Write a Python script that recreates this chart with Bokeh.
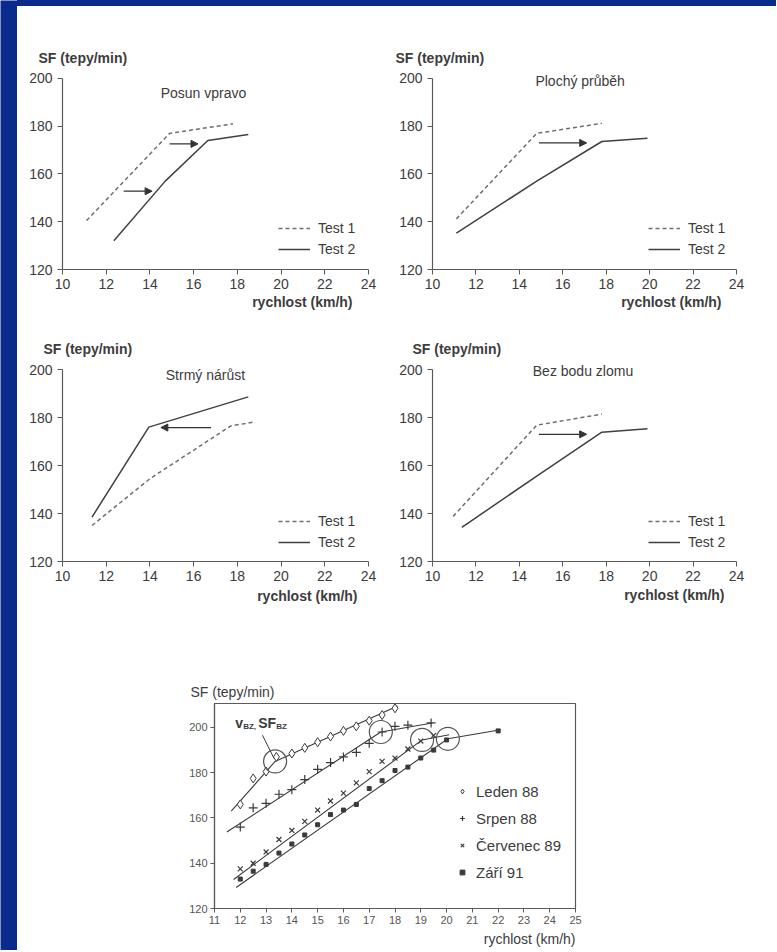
from bokeh.plotting import figure
from bokeh.models import Range1d, Label, Arrow, NormalHead, Legend, LegendItem, FixedTicker, Spacer, Title, Div
from bokeh.layouts import row, column
from bokeh.embed import file_html
from bokeh.resources import INLINE

# ---------------- data ----------------
x_ticks_small = [10, 12, 14, 16, 18, 20, 22, 24]
y_ticks_small = [120, 140, 160, 180, 200]

# Chart 1: Posun vpravo
c1_t1_x = [11.1, 14.9, 17.8]
c1_t1_y = [140.5, 177.0, 181.0]
c1_t2_x = [12.35, 14.7, 16.65, 18.5]
c1_t2_y = [132.0, 157.0, 174.0, 176.5]
c1_arrows = [(12.8, 152.8, 14.1, 152.8), (14.9, 172.6, 16.2, 172.6)]

# Chart 2: Plochý průběh
c2_t1_x = [11.1, 14.8, 17.8]
c2_t1_y = [141.2, 177.0, 181.2]
c2_t2_x = [11.1, 14.8, 17.8, 19.9]
c2_t2_y = [135.2, 157.0, 173.6, 175.0]
c2_arrows = [(14.9, 173.0, 17.1, 173.0)]

# Chart 3: Strmý nárůst
c3_t1_x = [11.35, 14.0, 17.7, 18.7]
c3_t1_y = [135.0, 154.5, 176.5, 178.0]
c3_t2_x = [11.35, 13.95, 18.5]
c3_t2_y = [138.5, 176.0, 188.6]
c3_arrows = [(16.8, 175.8, 14.5, 175.8)]

# Chart 4: Bez bodu zlomu
c4_t1_x = [10.95, 14.8, 17.8]
c4_t1_y = [138.8, 176.8, 181.4]
c4_t2_x = [11.35, 14.8, 17.8, 19.9]
c4_t2_y = [134.2, 155.6, 173.9, 175.3]
c4_arrows = [(14.9, 173.0, 17.1, 173.0)]

# Chart 5: measured series
x_ticks_big = list(range(11, 26))
y_ticks_big = [120, 140, 160, 180, 200]

leden_x = [12, 12.5, 13, 13.4, 14, 14.5, 15, 15.5, 16, 16.5, 17, 17.5, 18]
leden_y = [166, 177.5, 180.5, 187, 188.5, 191, 193.5, 196, 198.5, 200.5, 203, 205.5, 208.5]
srpen_x = [12, 12.5, 13, 13.5, 14, 14.5, 15, 15.5, 16, 16.5, 17, 17.5, 18, 18.5, 19.4]
srpen_y = [156, 164.5, 166.5, 170.5, 172.5, 177, 181.5, 184.5, 187, 189, 193, 198, 200.5, 201, 202]
cerv_x = [12, 12.5, 13, 13.5, 14, 14.5, 15, 15.5, 16, 16.5, 17, 17.5, 18, 18.5, 19, 19.5]
cerv_y = [137.5, 140, 145, 150.5, 154.5, 158.5, 163.5, 167.5, 171, 175.5, 180.5, 185, 186.5, 190.5, 194, 196.5]
zari_x = [12, 12.5, 13, 13.5, 14, 14.5, 15, 15.5, 16, 16.5, 17, 17.5, 18, 18.5, 19, 19.5, 20, 22]
zari_y = [133, 136.5, 139.5, 144.5, 148.5, 152.5, 157, 161.5, 163.5, 166, 173, 176.5, 181, 182.5, 186.5, 190, 194.5, 198.5]

# fitted two-segment lines
leden_fit_x = [11.65, 13.35, 18.1]
leden_fit_y = [163.0, 185.0, 209.5]
srpen_fit_x = [11.48, 17.45, 19.45]
srpen_fit_y = [153.8, 198.0, 202.0]
cerv_fit_x = [11.74, 19.05, 20.1]
cerv_fit_y = [132.8, 194.5, 196.8]
zari_fit_x = [11.84, 20.05, 22.1]
zari_fit_y = [129.3, 195.0, 199.0]

# break points (v_BZ, SF_BZ)
bz_x = [13.35, 17.45, 19.05, 20.05]
bz_y = [185.0, 198.0, 194.5, 195.0]

# ---------------- styling ----------------
FONT = "Liberation Sans"
TXT = "#3c3c3c"
AX = "#5a5a5a"
BLUE = "#0a2a8c"


def base_fig(w, h, bl, br, bt, bb, xr, yr, xt, yt, tick_size="14px"):
    p = figure(width=w, height=h, x_range=Range1d(*xr), y_range=Range1d(*yr),
               min_border_left=bl, min_border_right=br, min_border_top=bt, min_border_bottom=bb,
               toolbar_location=None, output_backend="svg",
               background_fill_color="white", border_fill_color="white")
    p.grid.visible = False
    p.outline_line_color = None
    p.xaxis.ticker = FixedTicker(ticks=xt)
    p.yaxis.ticker = FixedTicker(ticks=yt)
    for ax in (p.xaxis, p.yaxis):
        ax.axis_line_color = AX
        ax.axis_line_width = 1.2
        ax.major_tick_line_color = AX
        ax.major_tick_out = 5
        ax.major_tick_in = 0
        ax.minor_tick_line_color = None
        ax.major_label_text_font = FONT
        ax.major_label_text_font_size = tick_size
        ax.major_label_text_color = TXT
    p.xaxis.major_label_standoff = 4
    p.yaxis.major_label_standoff = 5
    return p


def lbl(p, x, y, text, size="14px", style="normal", align="left", baseline="middle", xo=0, yo=0):
    p.add_layout(Label(x=x, y=y, text=text, x_offset=xo, y_offset=yo,
                       text_font=FONT, text_font_size=size, text_font_style=style,
                       text_color=TXT, text_align=align, text_baseline=baseline))


def side_title(p, text, place, align, offset, standoff, size="14px", style="bold"):
    p.add_layout(Title(text=text, align=align, offset=offset, standoff=standoff,
                       text_font=FONT, text_font_size=size, text_font_style=style,
                       text_color=TXT), place)


def small_chart(w, bl, br, bt, fh, bb, title, tx, tyo, t1x, t1y, t2x, t2y, arrows,
                sf_xo, sf_so, rx_xo, rx_so, leg_bottom):
    p = base_fig(w, bt + fh + bb, bl, br, bt, bb, (10, 24), (120, 205), x_ticks_small, y_ticks_small)
    p.yaxis.bounds = (120, 200)
    r1 = p.line(t1x, t1y, line_color="#6e6e6e", line_width=1.5, line_dash="4 3")
    r2 = p.line(t2x, t2y, line_color="#404040", line_width=1.5)
    for (xs, ys, xe, ye) in arrows:
        p.add_layout(Arrow(end=NormalHead(size=7, line_color="#333333", fill_color="#333333", line_width=1),
                           x_start=xs, y_start=ys, x_end=xe, y_end=ye,
                           line_color="#333333", line_width=1.3))
    lbl(p, tx, 200, title, align="center", yo=tyo)
    side_title(p, "SF (tepy/min)", "above", "left", sf_xo, sf_so)
    side_title(p, "rychlost (km/h)", "below", "right", rx_xo, rx_so)
    leg = Legend(items=[LegendItem(label="Test 1", renderers=[r1]),
                        LegendItem(label="Test 2", renderers=[r2])],
                 location=(216, leg_bottom), padding=0, margin=0, spacing=1,
                 glyph_width=32, glyph_height=20, label_height=20, label_standoff=8,
                 border_line_color=None, background_fill_alpha=0,
                 label_text_font=FONT, label_text_font_size="14px", label_text_color=TXT)
    p.add_layout(leg)
    return p


f1 = small_chart(373, 45, 22, 60, 203, 53, "Posun vpravo", 16.45, -15,
                 c1_t1_x, c1_t1_y, c1_t2_x, c1_t2_y, c1_arrows, -24, 2, 16, 1, 10)
f2 = small_chart(386, 42, 40, 60, 203, 53, "Plochý průběh", 16.8, -3,
                 c2_t1_x, c2_t1_y, c2_t2_x, c2_t2_y, c2_arrows, -37, 2, 15, 1, 10)
f3 = small_chart(373, 45, 22, 35, 204, 59, "Strmý nárůst", 16.54, -5,
                 c3_t1_x, c3_t1_y, c3_t2_x, c3_t2_y, c3_arrows, -19, 2, 11, 4, 9)
f4 = small_chart(386, 42, 40, 35, 204, 59, "Bez bodu zlomu", 16.93, -1,
                 c4_t1_x, c4_t1_y, c4_t2_x, c4_t2_y, c4_arrows, -20, 2, 12, 3, 9)

# ---------------- bottom chart ----------------
f5 = base_fig(455, 330, 64, 30, 83, 42, (11, 25), (120, 210.6), x_ticks_big, y_ticks_big, tick_size="11px")
f5.outline_line_color = AX
f5.outline_line_width = 1.2
f5.xaxis.major_tick_out = 4
f5.yaxis.major_tick_out = 4
f5.xaxis.major_label_standoff = 3
f5.yaxis.major_label_standoff = 3
f5.xaxis.major_label_text_color = "#555555"
f5.yaxis.major_label_text_color = "#555555"

LC = "#3a3a3a"
for fx, fy in ((leden_fit_x, leden_fit_y), (srpen_fit_x, srpen_fit_y),
               (cerv_fit_x, cerv_fit_y), (zari_fit_x, zari_fit_y)):
    f5.line(fx, fy, line_color=LC, line_width=1.1)

rl = f5.scatter(leden_x, leden_y, marker="diamond", size=9, fill_color="white", line_color=LC, line_width=1)
rs = f5.scatter(srpen_x, srpen_y, marker="cross", size=9, line_color=LC, line_width=1.2)
rc = f5.scatter(cerv_x, cerv_y, marker="x", size=7, line_color=LC, line_width=1.2)
rz = f5.scatter(zari_x, zari_y, marker="square", size=4, fill_color=LC, line_color=LC)
f5.scatter(bz_x, bz_y, marker="circle", size=23, fill_alpha=0, line_color="#555555", line_width=1.2)

# annotation v_BZ, SF_BZ with leader line
ann_x, ann_y = 11.8, 202.0
f5.segment(x0=[12.86], y0=[196.6], x1=[bz_x[0] - 0.04], y1=[bz_y[0] + 1.3], line_color=LC, line_width=1)
lbl(f5, ann_x, ann_y, "v", size="14px", style="bold")
lbl(f5, ann_x, ann_y, "BZ,", size="8px", style="bold", xo=8, yo=-4)
lbl(f5, ann_x, ann_y, "SF", size="14px", style="bold", xo=23)
lbl(f5, ann_x, ann_y, "BZ", size="8px", style="bold", xo=41, yo=-4)

side_title(f5, "SF (tepy/min)", "above", "left", -24, 7, style="normal")
side_title(f5, "rychlost (km/h)", "below", "right", 0, 4, style="normal")

leg5 = Legend(items=[LegendItem(label="Leden 88", renderers=[rl]),
                     LegendItem(label="Srpen 88", renderers=[rs]),
                     LegendItem(label="Červenec 89", renderers=[rc]),
                     LegendItem(label="Září 91", renderers=[rz])],
              location=(242, 26), padding=0, margin=0, spacing=7,
              glyph_width=12, glyph_height=20, label_height=20, label_standoff=8,
              border_line_color=None, background_fill_alpha=0,
              label_text_font=FONT, label_text_font_size="15px", label_text_color=TXT)
f5.add_layout(leg5)


# ---------------- blue strips + layout ----------------
def strip(w, h):
    s = figure(width=w, height=h, min_border=0, toolbar_location=None, output_backend="svg",
               x_axis_location=None, y_axis_location=None,
               background_fill_color=BLUE, border_fill_color=BLUE)
    s.outline_line_color = None
    s.grid.visible = False
    return s


top_strip = Div(text="", width=759, height=6, margin=0, styles={"background-color": BLUE})

layout = row(strip(17, 950),
             column(top_strip, row(f1, f2), row(f3, f4),
                    row(Spacer(width=133, height=330), f5)))

open("out.html", "w").write(file_html(layout, INLINE))
